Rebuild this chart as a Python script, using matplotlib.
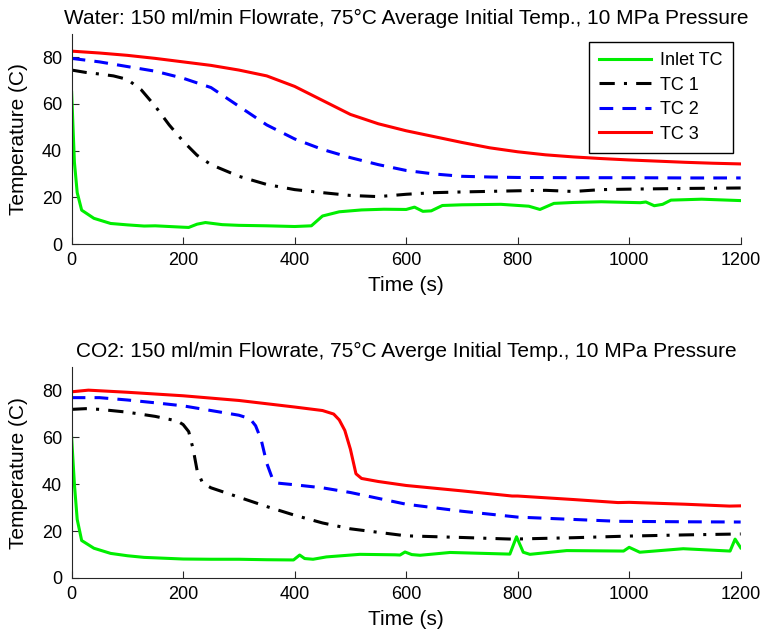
import matplotlib
matplotlib.use('Agg')
import matplotlib.pyplot as plt

plt.rcParams['font.family'] = ['Liberation Sans', 'DejaVu Sans']

# ---- Water run ----
w_red_t = [0, 50, 100, 150, 200, 250, 300, 350, 400, 450, 500, 550, 600, 650, 700,
           750, 800, 850, 900, 950, 1000, 1050, 1100, 1150, 1200]
w_red = [82.6, 81.8, 80.8, 79.5, 78, 76.5, 74.5, 72, 67.5, 61.5, 55.5, 51.5, 48.5, 46,
         43.5, 41.2, 39.5, 38.2, 37.3, 36.6, 36, 35.5, 35, 34.6, 34.3]

w_blue_t = [0, 50, 100, 150, 200, 250, 300, 350, 400, 450, 500, 550, 600, 650, 700,
            750, 800, 900, 1000, 1100, 1200]
w_blue = [79.5, 78, 76, 74, 71, 67, 59, 51, 45, 40.5, 37, 34, 31.5, 30, 29, 28.7, 28.5,
          28.4, 28.4, 28.3, 28.3]

w_black_t = [0, 25, 50, 75, 100, 125, 150, 175, 200, 225, 250, 300, 350, 400, 450, 500,
             550, 600, 650, 700, 800, 850, 900, 950, 1000, 1100, 1200]
w_black = [74.5, 73.5, 72.8, 72, 70.5, 66, 59, 51, 44, 38, 34, 29, 25.5, 23.3, 22, 20.8,
           20.3, 21.3, 22, 22.3, 22.8, 23, 22.5, 23.3, 23.5, 23.8, 24]

w_green_t = [0, 5, 10, 18, 40, 70, 100, 130, 150, 200, 210, 225, 240, 270, 300, 350, 400,
             430, 450, 480, 520, 560, 600, 615, 630, 645, 665, 700, 770, 820, 840, 865,
             900, 950, 1020, 1030, 1045, 1060, 1075, 1130, 1200]
w_green = [65, 35, 22, 14.5, 11, 8.8, 8.2, 7.7, 7.8, 7.2, 7.1, 8.5, 9.2, 8.3, 8, 7.8, 7.5,
           7.8, 12, 13.8, 14.6, 14.9, 14.8, 15.8, 14, 14.2, 16.5, 16.8, 17, 16.2, 14.8, 17.4,
           17.8, 18.1, 17.7, 18, 16.4, 17, 18.8, 19.2, 18.6]

# ---- CO2 run ----
c_red_t = [0, 30, 100, 200, 300, 400, 450, 470, 480, 490, 500, 510, 520, 550, 600, 700,
           790, 800, 900, 980, 1000, 1100, 1180, 1200]
c_red = [79.5, 80.2, 79.3, 77.8, 75.8, 73, 71.5, 70, 67.5, 63, 55, 44.5, 42.5, 41.2, 39.5,
         37.2, 35, 35, 33.5, 32.2, 32.3, 31.5, 30.7, 30.8]

c_blue_t = [0, 50, 100, 150, 200, 250, 300, 320, 330, 340, 350, 360, 370, 400, 450, 500,
            550, 600, 700, 800, 900, 980, 1100, 1200]
c_blue = [77, 77, 76, 74.8, 73.5, 71.5, 69.5, 68, 65, 59, 49, 42.5, 40.5, 39.8, 38.5, 36.5,
          34, 31.5, 28.5, 26, 25, 24.2, 24, 23.9]

c_black_t = [0, 25, 50, 100, 150, 190, 200, 210, 218, 225, 235, 250, 300, 350, 400, 450,
             500, 550, 600, 700, 790, 900, 1000, 1100, 1200]
c_black = [72, 72.3, 72, 70.8, 69, 67, 65.5, 62.5, 55, 46, 40.5, 38.5, 34.5, 30.5, 26.8,
           23.5, 21, 19.5, 18, 17.3, 16.6, 17.2, 17.9, 18.4, 18.8]

c_green_t = [0, 5, 10, 18, 40, 70, 100, 130, 200, 250, 300, 350, 398, 409, 418, 433, 457,
             517, 580, 589, 598, 610, 625, 679, 786, 798, 810, 822, 888, 990, 1000, 1019,
             1097, 1181, 1190, 1200]
c_green = [60, 40, 25, 16, 12.7, 10.5, 9.5, 8.8, 8.1, 8, 8, 7.8, 7.7, 9.8, 8.3, 8, 9, 10.1,
           9.9, 9.8, 11.1, 10, 9.7, 10.9, 10.2, 17.6, 11, 10.1, 11.7, 11.5, 13.1, 11, 12.5,
           11.5, 16.6, 12.9]

titles = ['Water: 150 ml/min Flowrate, 75\u00b0C Average Initial Temp., 10 MPa Pressure',
          'CO2: 150 ml/min Flowrate, 75\u00b0C Averge Initial Temp., 10 MPa Pressure']

GREEN = '#00ee00'
LW = 2.2

fig = plt.figure(figsize=(7.62, 6.33), dpi=100)
ax1 = fig.add_axes([0.094, 0.6145, 0.878, 0.332])
ax2 = fig.add_axes([0.094, 0.0869, 0.878, 0.333])

runs = [
  (ax1, w_green_t, w_green, w_black_t, w_black, w_blue_t, w_blue, w_red_t, w_red),
  (ax2, c_green_t, c_green, c_black_t, c_black, c_blue_t, c_blue, c_red_t, c_red),
]

for i, (ax, gt, g, kt, k, bt, b, rt, r) in enumerate(runs):
  ax.plot(gt, g, color=GREEN, lw=LW, label='Inlet TC')
  ax.plot(kt, k, color='black', lw=LW, ls=(0, (5, 3, 1, 3)), label='TC 1')
  ax.plot(bt, b, color='#0000ff', lw=LW, ls=(0, (4.5, 3)), label='TC 2')
  ax.plot(rt, r, color='#ff0000', lw=LW, label='TC 3')
  ax.set_xlim(0, 1200)
  ax.set_ylim(0, 90)
  ax.set_xticks([0, 200, 400, 600, 800, 1000, 1200])
  ax.set_yticks([0, 20, 40, 60, 80])
  ax.spines['top'].set_visible(False)
  ax.spines['right'].set_visible(False)
  for s in ('left', 'bottom'):
    ax.spines[s].set_color('#262626')
  ax.tick_params(direction='in', length=5, labelsize=13, colors='#262626',
                 labelcolor='black')
  ax.tick_params(axis='x', pad=6)
  ax.tick_params(axis='y', pad=7)
  ax.set_xlabel('Time (s)', fontsize=15, labelpad=5)
  ax.set_ylabel('Temperature (C)', fontsize=15, labelpad=10)
  ax.set_title(titles[i], fontsize=15, pad=7)

leg = ax1.legend(loc='upper right', fontsize=13, fancybox=False, edgecolor='black',
                 framealpha=1, handlelength=2.9, handletextpad=0.5, borderpad=0.55,
                 labelspacing=0.42, borderaxespad=0.45)
leg.get_frame().set_linewidth(1)

fig.savefig('out.png', dpi=100)
